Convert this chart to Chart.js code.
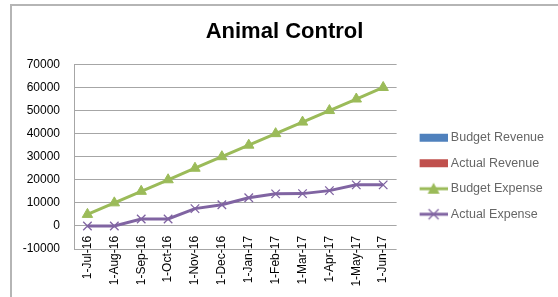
<!DOCTYPE html>
<html>
<head>
<meta charset="utf-8">
<script src="https://cdn.jsdelivr.net/npm/chart.js@4.4.1/dist/chart.umd.min.js"></script>
<style>
  html, body { margin: 0; padding: 0; background: #fff; }
  #wrap { position: relative; width: 558px; height: 297px; overflow: hidden; }
  #frame { position: absolute; left: 10px; top: 4px; width: 548px; height: 293px;
           border-left: 2px solid #b5b5b5; border-top: 2px solid #b5b5b5; box-sizing: border-box; }
  canvas { position: absolute; left: 0; top: 0; }
</style>
</head>
<body>
<div id="wrap">
  <div id="frame"></div>
  <canvas id="myChart" width="558" height="297"></canvas>
</div>
<script>
const months = ["1-Jul-16", "1-Aug-16", "1-Sep-16", "1-Oct-16", "1-Nov-16", "1-Dec-16",
                "1-Jan-17", "1-Feb-17", "1-Mar-17", "1-Apr-17", "1-May-17", "1-Jun-17"];
const seriesNames = ["Budget Revenue", "Actual Revenue", "Budget Expense", "Actual Expense"];
const budgetRevenue = [];
const actualRevenue = [];
const budgetExpense = [5000, 10000, 15000, 20000, 25000, 30000, 35000, 40000, 45000, 50000, 55000, 60000];
const actualExpense = [0, 0, 3000, 3000, 7500, 9200, 12200, 13900, 14000, 15300, 17800, 17800];
const yMin = -10000;
const yMax = 70000;
const yStep = 10000;

const blue = "#4F81BD";
const red = "#C0504D";
const green = "#9BBB59";
const purple = "#8064A2";
const font = "'Liberation Sans', Arial, sans-serif";

// little legend pictures, swatch sits in the right 28px
function swatch(color, kind) {
  const c = document.createElement("canvas");
  c.width = 41;
  c.height = 14;
  const g = c.getContext("2d");
  if (kind === "bar") {
    g.fillStyle = color;
    g.fillRect(13, 3, 28, 8);
    return c;
  }
  g.strokeStyle = color;
  g.lineWidth = 3;
  g.beginPath();
  g.moveTo(13, 7);
  g.lineTo(41, 7);
  g.stroke();
  if (kind === "triangle") {
    g.fillStyle = color;
    g.beginPath();
    g.moveTo(27, 1);
    g.lineTo(33, 12);
    g.lineTo(21, 12);
    g.closePath();
    g.fill();
  } else {
    g.lineWidth = 1.3;
    g.beginPath();
    g.moveTo(22, 2); g.lineTo(32, 12);
    g.moveTo(32, 2); g.lineTo(22, 12);
    g.stroke();
  }
  return c;
}

const legendPics = [swatch(blue, "bar"), swatch(red, "bar"), swatch(green, "triangle"), swatch(purple, "cross")];

const chartInstance = new Chart("myChart", {
  type: "line",
  data: {
    labels: months,
    datasets: [
      { type: "bar", label: seriesNames[0], data: budgetRevenue, backgroundColor: blue },
      { type: "bar", label: seriesNames[1], data: actualRevenue, backgroundColor: red },
      {
        label: seriesNames[2], data: budgetExpense,
        borderColor: green, backgroundColor: green, borderWidth: 3,
        pointStyle: "triangle", pointRadius: 6, pointBackgroundColor: green, pointBorderColor: green,
        pointBorderWidth: 1, tension: 0
      },
      {
        label: seriesNames[3], data: actualExpense,
        borderColor: purple, backgroundColor: purple, borderWidth: 3,
        pointStyle: "crossRot", pointRadius: 6, pointBorderColor: purple,
        pointBorderWidth: 1.3, tension: 0
      }
    ]
  },
  options: {
    responsive: false,
    animation: false,
    layout: { padding: { left: 15, right: 4, top: 0, bottom: 48 } },
    plugins: {
      title: {
        display: true,
        text: "Animal Control",
        color: "#000",
        font: { family: font, size: 22, weight: "bold" },
        padding: { top: 19, bottom: 19 }
      },
      legend: {
        position: "right",
        align: "start",
        maxWidth: 170,
        // empty title just pushes the items down to where they sit in the original
        title: { display: true, text: " ", font: { size: 10 }, padding: { top: 106.5, bottom: 0 } },
        labels: {
          usePointStyle: true,
          pointStyleWidth: 35,
          padding: 13,
          color: "#000",
          font: { family: font, size: 12.5 },
          generateLabels: (chart) => chart.data.datasets.map((ds, i) => ({
            text: ds.label,
            pointStyle: legendPics[i],
            datasetIndex: i,
            hidden: false,
            lineWidth: 0,
            strokeStyle: "transparent",
            fillStyle: "transparent"
          }))
        }
      },
      tooltip: { enabled: false }
    },
    scales: {
      x: {
        position: { y: 0 },
        offset: true,
        grid: { display: false, drawTicks: false },
        border: { display: false },
        ticks: {
          autoSkip: false, minRotation: 90, maxRotation: 90, padding: 10,
          color: "#000", font: { family: font, size: 12 }
        }
      },
      y: {
        min: yMin,
        max: yMax,
        ticks: {
          stepSize: yStep, padding: 14, color: "#000", font: { family: font, size: 12 },
          callback: (v) => String(v)
        },
        grid: { color: "#a6a6a6", drawTicks: false },
        border: { color: "#a6a6a6" },
        afterFit: (scale) => { scale.width = 59; }
      }
    }
  }
});
</script>
</body>
</html>
